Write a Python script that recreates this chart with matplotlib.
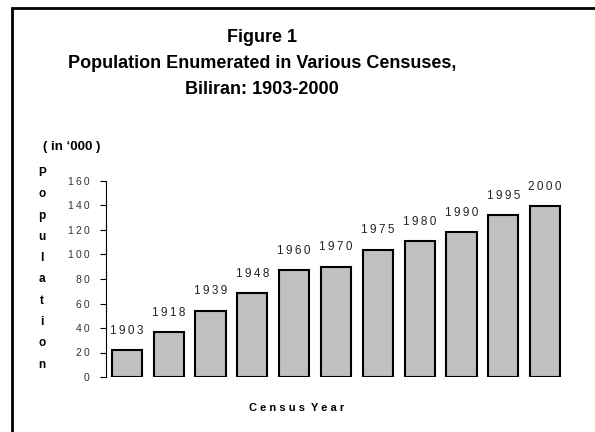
import matplotlib.pyplot as plt
from matplotlib.patches import Rectangle

# census years and population in thousands
years = ["1903", "1918", "1939", "1948", "1960", "1970", "1975", "1980", "1990", "1995", "2000"]
population = [22.0, 36.5, 53.9, 68.3, 87.2, 90.1, 103.7, 111.0, 118.1, 132.2, 139.3]
yticks = [0, 20, 40, 60, 80, 100, 120, 140, 160]

plt.rcParams['font.family'] = ['Liberation Sans', 'DejaVu Sans']

fig = plt.figure(figsize=(5.95, 4.32), dpi=100)

# border round the whole chart
fig.patches.append(Rectangle((12 / 595, -0.05), 1.0, 1 - 8 / 432 + 0.05,
                             transform=fig.transFigure, fill=False,
                             edgecolor="black", linewidth=2))

ax = fig.add_axes([106 / 595, 55 / 432, 460 / 595, 196 / 432])

xs = list(range(len(years)))
ax.bar(xs, population, width=0.72, color="#c0c0c0", edgecolor="black", linewidth=1.5)

# spread-out digits, like the wide font of the original
def spaced(s):
  return "\u2009".join(s)

# year label above each bar
for x, v, yr in zip(xs, population, years):
  ax.text(x, v + 11, spaced(yr), ha="center", va="bottom", fontsize=8.5, color="#222222")

ax.set_xlim(-0.5, len(years) - 0.5)
ax.set_ylim(0, 160)
ax.set_yticks(yticks)
ax.set_yticklabels([spaced(str(t)) for t in yticks], fontsize=7.5, color="#333333")
ax.set_xticks([])
ax.tick_params(axis="y", length=4, width=0.8, pad=8)

for side in ["top", "right", "bottom"]:
  ax.spines[side].set_visible(False)
ax.spines["left"].set_linewidth(0.8)

# titles
fig.text(262 / 595, 1 - 37 / 432, "Figure 1", ha="center", va="center",
         fontsize=13, fontweight="bold")
fig.text(262 / 595, 1 - 64 / 432, "Population Enumerated in Various Censuses,",
         ha="center", va="center", fontsize=13, fontweight="bold")
fig.text(262 / 595, 1 - 89 / 432, "Biliran: 1903-2000", ha="center", va="center",
         fontsize=13, fontweight="bold")

fig.text(43 / 595, 1 - 147 / 432, "( in \u2018000 )", ha="left", va="center",
         fontsize=9.5, fontweight="bold")

# vertical stacked y label
letters = "Population"
for i, ch in enumerate(letters):
  fig.text(42 / 595, 1 - (173 + i * 21.3) / 432, ch, ha="center", va="center",
           fontsize=8.5, fontweight="bold")

fig.text(297 / 595, 1 - 408 / 432, "C e n s u s  Y e a r", ha="center", va="center",
         fontsize=8, fontweight="bold")

fig.savefig("out.png", dpi=100)
